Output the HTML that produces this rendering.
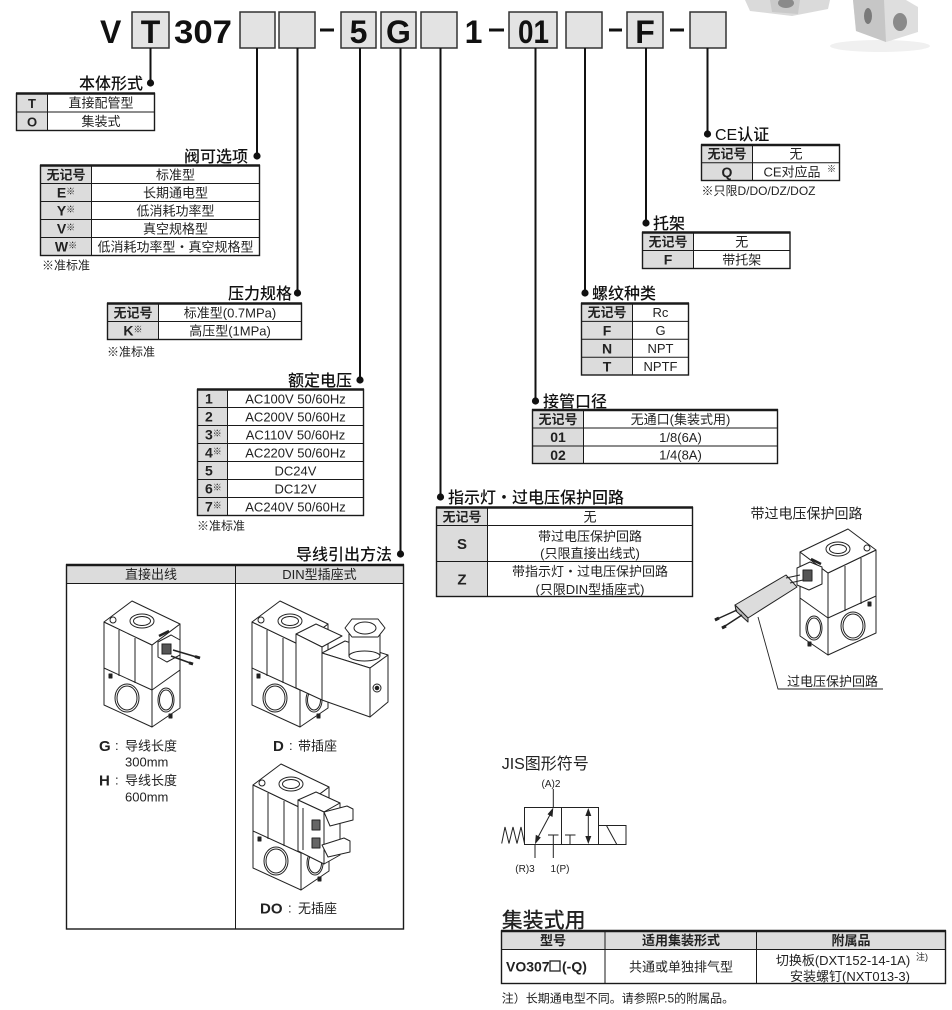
<!DOCTYPE html>
<html><head><meta charset="utf-8">
<style>
html,body{margin:0;padding:0;background:#fff;}
svg{display:block;}
text{font-family:"Liberation Sans","Noto Sans CJK SC",sans-serif;fill:#222;}
.t{font-size:13px;}
.c{text-anchor:middle;}
.e{text-anchor:end;}
.k{font-weight:bold;}
.lb{font-size:16px;font-weight:500;fill:#111;}
.n{font-size:12px;}
.hd{font-size:32px;font-weight:bold;fill:#111;}
.tb rect.o{fill:none;stroke:#1a1a1a;stroke-width:1.4;}
.tb line{stroke:#1a1a1a;stroke-width:1;}
.tb line.top{stroke-width:2.4;}
.g{fill:#dcdcdc;}
</style></head><body>
<svg width="952" height="1010" viewBox="0 0 952 1010" xmlns="http://www.w3.org/2000/svg">
<defs>
<g id="vb" stroke="#222" stroke-width="1" stroke-linejoin="round" fill="#fff">
 <polygon points="1,66 49,88 49,127 1,105"/>
 <polygon points="49,88 77,70 77,108 49,127"/>
 <polygon points="1,22 49,45 49,90 1,68"/>
 <polygon points="49,45 77,24 77,70 49,90"/>
 <polygon points="1,22 29,1 77,24 49,45"/>
 <ellipse cx="39" cy="21" rx="12" ry="7"/>
 <ellipse cx="39" cy="21" rx="8.5" ry="4.5"/>
 <line x1="16" y1="30" x2="16" y2="76"/>
 <line x1="32" y1="38" x2="32" y2="83"/>
 <ellipse cx="24" cy="98" rx="12" ry="14"/>
 <ellipse cx="24" cy="98" rx="10" ry="12"/>
 <ellipse cx="63" cy="100" rx="8" ry="12"/>
 <ellipse cx="63" cy="100" rx="6.5" ry="10"/>
 <rect x="6" y="74" width="3" height="4" fill="#222"/>
 <rect x="66" y="114" width="3" height="4" fill="#222"/>
 <circle cx="10" cy="20" r="3"/>
 <line x1="56" y1="36" x2="66" y2="31" stroke-width="2.5"/>
</g>
</defs>

<!-- top-right product photo -->
<g>
 <ellipse cx="880" cy="46" rx="50" ry="6" fill="#f0f0f0"/>
 <polygon points="745,0 830,0 828,9 792,16 750,11" fill="#dadada"/>
 <polygon points="770,0 800,0 798,14 772,12" fill="#c9c9c9"/>
 <ellipse cx="786" cy="3" rx="8" ry="5" fill="#8a8a8a"/>
 <polygon points="853,0 906,0 918,7 918,32 886,42 856,31" fill="#dedede"/>
 <polygon points="853,0 884,0 886,42 856,31" fill="#c6c6c6"/>
 <ellipse cx="868" cy="16" rx="4" ry="8" fill="#7a7a7a"/>
 <ellipse cx="900" cy="22" rx="7" ry="9" fill="#8a8a8a"/>
</g>

<!-- header code -->
<text x="100" y="43" class="hd">V</text>
<g fill="#e3e3e3" stroke="#333" stroke-width="1.5">
 <rect x="132" y="12" width="37" height="36"/>
 <rect x="240" y="12" width="35" height="36"/>
 <rect x="279" y="12" width="36" height="36"/>
 <rect x="341" y="12" width="35" height="36"/>
 <rect x="381" y="12" width="35" height="36"/>
 <rect x="421" y="12" width="36" height="36"/>
 <rect x="509" y="12" width="48" height="36"/>
 <rect x="566" y="12" width="36" height="36"/>
 <rect x="627" y="12" width="36" height="36"/>
 <rect x="690" y="12" width="36" height="36"/>
</g>
<text x="150.5" y="43" class="hd c">T</text>
<text x="174" y="43" class="hd" textLength="58" lengthAdjust="spacingAndGlyphs">307</text>
<text x="358.5" y="43" class="hd c">5</text>
<text x="398.5" y="43" class="hd c">G</text>
<text x="473.5" y="43" class="hd c">1</text>
<text x="518" y="43" class="hd" textLength="31" lengthAdjust="spacingAndGlyphs">01</text>
<text x="645" y="43" class="hd c">F</text>
<g fill="#111">
 <rect x="320" y="28.5" width="14" height="3"/>
 <rect x="489" y="28.5" width="15" height="3"/>
 <rect x="609" y="28.5" width="13" height="3"/>
 <rect x="670" y="28.5" width="14" height="3"/>
</g>

<!-- connector lines -->
<g stroke="#111" stroke-width="2">
 <line x1="150.5" y1="48" x2="150.5" y2="83"/>
 <line x1="257" y1="48" x2="257" y2="156"/>
 <line x1="297.5" y1="48" x2="297.5" y2="293"/>
 <line x1="360" y1="48" x2="360" y2="380"/>
 <line x1="400.5" y1="48" x2="400.5" y2="554"/>
 <line x1="440.5" y1="48" x2="440.5" y2="497"/>
 <line x1="535.5" y1="48" x2="535.5" y2="401"/>
 <line x1="585" y1="48" x2="585" y2="293"/>
 <line x1="646" y1="48" x2="646" y2="223"/>
 <line x1="707.5" y1="48" x2="707.5" y2="134"/>
</g>
<g fill="#111">
 <circle cx="150.5" cy="83" r="3.6"/>
 <circle cx="257" cy="156" r="3.6"/>
 <circle cx="297.5" cy="293" r="3.6"/>
 <circle cx="360" cy="380" r="3.6"/>
 <circle cx="400.5" cy="554" r="3.6"/>
 <circle cx="440.5" cy="497" r="3.6"/>
 <circle cx="535.5" cy="401" r="3.6"/>
 <circle cx="585" cy="293" r="3.6"/>
 <circle cx="646" cy="223" r="3.6"/>
 <circle cx="707.5" cy="134" r="3.6"/>
</g>

<!-- labels -->
<text x="143" y="89" class="lb e">本体形式</text>
<text x="248" y="162" class="lb e">阀可选项</text>
<text x="292" y="299" class="lb e">压力规格</text>
<text x="352" y="386" class="lb e">额定电压</text>
<text x="392" y="560" class="lb e">导线引出方法</text>
<text x="448" y="503" class="lb">指示灯・过电压保护回路</text>
<text x="543" y="407" class="lb">接管口径</text>
<text x="592" y="299" class="lb">螺纹种类</text>
<text x="653" y="229" class="lb">托架</text>
<text x="715" y="140" class="lb">CE认证</text>

<!-- T1 本体形式 -->
<g class="tb">
 <rect class="g" x="16.5" y="93.5" width="31" height="37"/>
 <rect class="o" x="16.5" y="93.5" width="138" height="37"/>
 <line class="top" x1="16" y1="93.5" x2="155" y2="93.5"/>
 <line x1="47.5" y1="93.5" x2="47.5" y2="130.5"/>
 <line x1="16.5" y1="112" x2="154.5" y2="112"/>
</g>
<text x="32" y="108" class="t c k" font-size="14">T</text>
<text x="101" y="107.5" class="t c">直接配管型</text>
<text x="32" y="126.5" class="t c k" font-size="14">O</text>
<text x="101" y="126" class="t c">集装式</text>

<!-- T2 阀可选项 -->
<g class="tb">
 <rect class="g" x="40.5" y="165.5" width="51" height="90"/>
 <rect class="o" x="40.5" y="165.5" width="219" height="90"/>
 <line class="top" x1="40" y1="165.5" x2="260" y2="165.5"/>
 <line x1="91.5" y1="165.5" x2="91.5" y2="255.5"/>
 <line x1="40.5" y1="183.5" x2="259.5" y2="183.5"/>
 <line x1="40.5" y1="201.5" x2="259.5" y2="201.5"/>
 <line x1="40.5" y1="219.5" x2="259.5" y2="219.5"/>
 <line x1="40.5" y1="237.5" x2="259.5" y2="237.5"/>
</g>
<text x="66" y="179.3" class="t c k">无记号</text>
<text x="175.5" y="179.3" class="t c">标准型</text>
<text x="66" y="197.5" class="c"><tspan class="k" font-size="14">E</tspan><tspan font-size="9" dy="-3">※</tspan></text>
<text x="175.5" y="197.3" class="t c">长期通电型</text>
<text x="66" y="215.5" class="c"><tspan class="k" font-size="14">Y</tspan><tspan font-size="9" dy="-3">※</tspan></text>
<text x="175.5" y="215.3" class="t c">低消耗功率型</text>
<text x="66" y="233.5" class="c"><tspan class="k" font-size="14">V</tspan><tspan font-size="9" dy="-3">※</tspan></text>
<text x="175.5" y="233.3" class="t c">真空规格型</text>
<text x="66" y="251.5" class="c"><tspan class="k" font-size="14">W</tspan><tspan font-size="9" dy="-3">※</tspan></text>
<text x="175.5" y="251.3" class="t c">低消耗功率型・真空规格型</text>
<text x="42" y="269.5" class="n">※准标准</text>

<!-- T3 压力规格 -->
<g class="tb">
 <rect class="g" x="107.5" y="303.5" width="51" height="36"/>
 <rect class="o" x="107.5" y="303.5" width="194" height="36"/>
 <line class="top" x1="107" y1="303.5" x2="302" y2="303.5"/>
 <line x1="158.5" y1="303.5" x2="158.5" y2="339.5"/>
 <line x1="107.5" y1="321.5" x2="301.5" y2="321.5"/>
</g>
<text x="133" y="317.3" class="t c k">无记号</text>
<text x="230" y="317.3" class="t c">标准型(0.7MPa)</text>
<text x="133" y="335.5" class="c"><tspan class="k" font-size="14">K</tspan><tspan font-size="9" dy="-3">※</tspan></text>
<text x="230" y="335.3" class="t c">高压型(1MPa)</text>
<text x="107" y="356" class="n">※准标准</text>

<!-- T4 额定电压 -->
<g class="tb">
 <rect class="g" x="197.5" y="389.5" width="30" height="126"/>
 <rect class="o" x="197.5" y="389.5" width="166" height="126"/>
 <line class="top" x1="197" y1="389.5" x2="364" y2="389.5"/>
 <line x1="227.5" y1="389.5" x2="227.5" y2="515.5"/>
 <line x1="197.5" y1="407.5" x2="363.5" y2="407.5"/>
 <line x1="197.5" y1="425.5" x2="363.5" y2="425.5"/>
 <line x1="197.5" y1="443.5" x2="363.5" y2="443.5"/>
 <line x1="197.5" y1="461.5" x2="363.5" y2="461.5"/>
 <line x1="197.5" y1="479.5" x2="363.5" y2="479.5"/>
 <line x1="197.5" y1="497.5" x2="363.5" y2="497.5"/>
</g>
<text x="205" y="403.7" class="k" font-size="14">1</text>
<text x="295.5" y="403.3" class="t c">AC100V 50/60Hz</text>
<text x="205" y="421.7" class="k" font-size="14">2</text>
<text x="295.5" y="421.3" class="t c">AC200V 50/60Hz</text>
<text x="205" y="439.7"><tspan class="k" font-size="14">3</tspan><tspan font-size="9" dy="-3">※</tspan></text>
<text x="295.5" y="439.3" class="t c">AC110V 50/60Hz</text>
<text x="205" y="457.7"><tspan class="k" font-size="14">4</tspan><tspan font-size="9" dy="-3">※</tspan></text>
<text x="295.5" y="457.3" class="t c">AC220V 50/60Hz</text>
<text x="205" y="475.7" class="k" font-size="14">5</text>
<text x="295.5" y="475.3" class="t c">DC24V</text>
<text x="205" y="493.7"><tspan class="k" font-size="14">6</tspan><tspan font-size="9" dy="-3">※</tspan></text>
<text x="295.5" y="493.3" class="t c">DC12V</text>
<text x="205" y="511.7"><tspan class="k" font-size="14">7</tspan><tspan font-size="9" dy="-3">※</tspan></text>
<text x="295.5" y="511.3" class="t c">AC240V 50/60Hz</text>
<text x="197" y="530" class="n">※准标准</text>

<!-- T5 导线引出方法 -->
<g class="tb">
 <rect class="g" x="66.5" y="565" width="337" height="18.5"/>
 <rect class="o" x="66.5" y="565" width="337" height="364"/>
 <line class="top" x1="66" y1="565" x2="404" y2="565"/>
 <line x1="66.5" y1="583.5" x2="403.5" y2="583.5"/>
 <line x1="235.5" y1="565" x2="235.5" y2="929"/>
</g>
<text x="151" y="579" class="t c">直接出线</text>
<text x="319.5" y="579" class="t c">DIN型插座式</text>

<!-- left valve (G) -->
<use href="#vb" transform="translate(103,600)"/>
<g transform="translate(103,600)" stroke="#222" stroke-width="1" fill="#fff">
 <polygon points="55,42 68,35 77,40 77,55 64,62 55,57"/>
 <rect x="59" y="44" width="9" height="10" fill="#555"/>
 <path d="M70,50 L97,58 M68,56 L90,64" stroke-width="1.6" fill="none"/>
 <path d="M92,56.5 L97,58 M86,62.8 L90,64" stroke-width="3" fill="none"/>
</g>
<text x="99" y="751" class="k" font-size="15">G</text>
<text x="115" y="750" class="t" fill="#666">:</text>
<text x="125" y="750.5" class="t">导线长度</text>
<text x="125" y="766.5" class="t">300mm</text>
<text x="99" y="785.5" class="k" font-size="15">H</text>
<text x="115" y="784.5" class="t" fill="#666">:</text>
<text x="125" y="785" class="t">导线长度</text>
<text x="125" y="801.5" class="t">600mm</text>

<!-- D valve -->
<use href="#vb" transform="translate(251,600)"/>
<g stroke="#222" stroke-width="1" fill="#fff" stroke-linejoin="round">
 <polygon points="296,634 316,624 342,636 322,647"/>
 <polygon points="296,634 322,647 322,700 296,688"/>
 <polygon points="322,653 345,641 388,655 370,668"/>
 <polygon points="322,653 370,668 370,717 322,700"/>
 <polygon points="370,668 388,655 388,702 370,717"/>
 <rect x="349" y="634" width="31" height="22"/>
 <ellipse cx="364.5" cy="656" rx="15.5" ry="5"/>
 <polygon points="345,628 352,619 378,619 385,628 378,637 352,637"/>
 <ellipse cx="365" cy="628" rx="11" ry="6"/>
 <circle cx="377" cy="688" r="4"/>
 <circle cx="377" cy="688" r="1.8" fill="#222"/>
</g>
<text x="273" y="751" class="k" font-size="15">D</text>
<text x="289" y="750" class="t" fill="#666">:</text>
<text x="298" y="750.5" class="t">带插座</text>

<!-- DO valve -->
<use href="#vb" transform="translate(252,763)"/>
<g stroke="#222" stroke-width="1" fill="#fff" stroke-linejoin="round">
 <polygon points="298,800 316,792 340,803 324,812"/>
 <polygon points="298,800 324,812 324,864 298,851"/>
 <polygon points="324,812 340,803 340,855 324,864"/>
 <polygon points="324,812 347,806 353,809 353,820 330,826"/>
 <polygon points="322,845 344,838 350,841 350,852 328,857"/>
 <rect x="312" y="820" width="8" height="10" fill="#666"/>
 <rect x="312" y="838" width="8" height="10" fill="#666"/>
 <line x1="303" y1="808" x2="303" y2="850"/>
</g>
<text x="260" y="913.5" class="k" font-size="15">DO</text>
<text x="288" y="912.5" class="t" fill="#666">:</text>
<text x="298" y="913" class="t">无插座</text>

<!-- T6 指示灯 -->
<g class="tb">
 <rect class="g" x="436.5" y="507.5" width="51" height="89"/>
 <rect class="o" x="436.5" y="507.5" width="256" height="89"/>
 <line class="top" x1="436" y1="507.5" x2="693" y2="507.5"/>
 <line x1="487.5" y1="507.5" x2="487.5" y2="596.5"/>
 <line x1="436.5" y1="525.5" x2="692.5" y2="525.5"/>
 <line x1="436.5" y1="561.5" x2="692.5" y2="561.5"/>
</g>
<text x="462" y="521.3" class="t c k">无记号</text>
<text x="590" y="521.3" class="t c">无</text>
<text x="462" y="549" class="c k" font-size="15">S</text>
<text x="590" y="540.8" class="t c">带过电压保护回路</text>
<text x="590" y="558" class="t c">(只限直接出线式)</text>
<text x="462" y="584.5" class="c k" font-size="15">Z</text>
<text x="590" y="575.8" class="t c">带指示灯・过电压保护回路</text>
<text x="590" y="593.8" class="t c">(只限DIN型插座式)</text>

<!-- T7 接管口径 -->
<g class="tb">
 <rect class="g" x="532.5" y="410" width="51" height="53.5"/>
 <rect class="o" x="532.5" y="410" width="245" height="53.5"/>
 <line class="top" x1="532" y1="410" x2="778" y2="410"/>
 <line x1="583.5" y1="410" x2="583.5" y2="463.5"/>
 <line x1="532.5" y1="428" x2="777.5" y2="428"/>
 <line x1="532.5" y1="446" x2="777.5" y2="446"/>
</g>
<text x="558" y="423.8" class="t c k">无记号</text>
<text x="680.5" y="423.8" class="t c">无通口(集装式用)</text>
<text x="558" y="442.2" class="c k" font-size="14">01</text>
<text x="680.5" y="441.8" class="t c">1/8(6A)</text>
<text x="558" y="460" class="c k" font-size="14">02</text>
<text x="680.5" y="459.6" class="t c">1/4(8A)</text>

<!-- T8 螺纹种类 -->
<g class="tb">
 <rect class="g" x="581.5" y="303.5" width="51" height="71.5"/>
 <rect class="o" x="581.5" y="303.5" width="107" height="71.5"/>
 <line class="top" x1="581" y1="303.5" x2="689" y2="303.5"/>
 <line x1="632.5" y1="303.5" x2="632.5" y2="375"/>
 <line x1="581.5" y1="321.4" x2="688.5" y2="321.4"/>
 <line x1="581.5" y1="339.3" x2="688.5" y2="339.3"/>
 <line x1="581.5" y1="357.2" x2="688.5" y2="357.2"/>
</g>
<text x="607" y="317.2" class="t c k">无记号</text>
<text x="660.5" y="317.2" class="t c">Rc</text>
<text x="607" y="335.5" class="c k" font-size="14">F</text>
<text x="660.5" y="335.1" class="t c">G</text>
<text x="607" y="353.4" class="c k" font-size="14">N</text>
<text x="660.5" y="353" class="t c">NPT</text>
<text x="607" y="371.3" class="c k" font-size="14">T</text>
<text x="660.5" y="370.9" class="t c">NPTF</text>

<!-- T9 托架 -->
<g class="tb">
 <rect class="g" x="642.5" y="232.5" width="51" height="36"/>
 <rect class="o" x="642.5" y="232.5" width="147.5" height="36"/>
 <line class="top" x1="642" y1="232.5" x2="790.5" y2="232.5"/>
 <line x1="693.5" y1="232.5" x2="693.5" y2="268.5"/>
 <line x1="642.5" y1="250.5" x2="790" y2="250.5"/>
</g>
<text x="668" y="246.3" class="t c k">无记号</text>
<text x="741.75" y="246.3" class="t c">无</text>
<text x="668" y="264.7" class="c k" font-size="14">F</text>
<text x="741.75" y="264.3" class="t c">带托架</text>

<!-- T10 CE认证 -->
<g class="tb">
 <rect class="g" x="701.5" y="145" width="51" height="35.5"/>
 <rect class="o" x="701.5" y="145" width="138" height="35.5"/>
 <line class="top" x1="701" y1="145" x2="840" y2="145"/>
 <line x1="752.5" y1="145" x2="752.5" y2="180.5"/>
 <line x1="701.5" y1="162.75" x2="839.5" y2="162.75"/>
</g>
<text x="727" y="158.7" class="t c k">无记号</text>
<text x="796" y="158.7" class="t c">无</text>
<text x="727" y="176.8" class="c k" font-size="14">Q</text>
<text x="792" y="176.4" class="t c">CE对应品</text>
<text x="827" y="172" font-size="9">※</text>
<text x="701.5" y="195.1" class="n">※只限D/DO/DZ/DOZ</text>

<!-- right image: overvoltage protection -->
<text x="806.5" y="518.3" class="c" font-size="14">带过电压保护回路</text>
<use href="#vb" transform="translate(877,528) scale(-1,1)"/>
<g stroke="#222" stroke-width="1" fill="#fff" stroke-linejoin="round">
 <polygon points="797,568 810,562 822,567 822,584 809,590 797,585"/>
 <rect x="803" y="570" width="9" height="11" fill="#555"/>
 <polygon points="735,605 786,575 797,587 748,618" fill="#dcdcdc"/>
 <polygon points="735,605 748,618 748,622 736,611" fill="#bbb"/>
 <path d="M786,578 L800,575 M790,583 L803,580" fill="none"/>
 <path d="M737,610 L715,620 M742,615 L722,628" fill="none" stroke-width="1.5"/>
 <path d="M719,618 L715,620 M726,626 L722,628" fill="none" stroke-width="3"/>
 <path d="M758,617 L778,689 L883,689" fill="none" stroke-width="0.9"/>
</g>
<text x="787" y="686" class="t">过电压保护回路</text>

<!-- JIS symbol -->
<text x="501.7" y="769" font-size="16">JIS图形符号</text>
<text x="551" y="787" class="c" font-size="10">(A)2</text>
<g stroke="#222" stroke-width="1" fill="none">
 <rect x="524.5" y="807.5" width="37" height="37"/>
 <rect x="561.5" y="807.5" width="37" height="37"/>
 <rect x="598.5" y="825.5" width="27.5" height="19"/>
 <polyline points="524.5,843.5 521,827 517,843.5 513,827 509,843.5 505,827 501.7,843.5"/>
 <line x1="536.5" y1="840" x2="552" y2="811"/>
 <line x1="553.3" y1="807.5" x2="553.3" y2="789"/>
 <line x1="535" y1="844.5" x2="535" y2="858"/>
 <line x1="553.3" y1="844.5" x2="553.3" y2="858"/>
 <line x1="553.3" y1="844.5" x2="553.3" y2="835"/>
 <line x1="548" y1="835" x2="558.5" y2="835"/>
 <line x1="570" y1="844.5" x2="570" y2="835"/>
 <line x1="565" y1="835" x2="575.5" y2="835"/>
 <line x1="588.3" y1="812" x2="588.3" y2="840"/>
 <line x1="606.7" y1="826" x2="616.7" y2="844.3"/>
</g>
<g fill="#222">
 <polygon points="553.3,807.5 552.5,817 547.5,814.3"/>
 <polygon points="535,844.3 535.8,834.8 540.8,837.5"/>
 <polygon points="588.3,808 585.3,816 591.3,816"/>
 <polygon points="588.3,844 585.3,836 591.3,836"/>
</g>
<text x="525" y="872" class="c" font-size="10">(R)3</text>
<text x="560" y="872" class="c" font-size="10">1(P)</text>

<!-- 集装式用 -->
<text x="501.7" y="927.5" font-size="21" font-weight="500">集装式用</text>
<g class="tb">
 <rect class="g" x="501.5" y="931" width="444" height="18.5"/>
 <rect class="o" x="501.5" y="931" width="444" height="52.5"/>
 <line class="top" x1="501" y1="931" x2="946" y2="931"/>
 <line x1="501.5" y1="949.5" x2="945.5" y2="949.5"/>
 <line x1="605" y1="931" x2="605" y2="983.5"/>
 <line x1="756.5" y1="931" x2="756.5" y2="983.5"/>
</g>
<text x="553" y="945" class="t c" font-weight="600">型号</text>
<text x="681" y="945" class="t c" font-weight="600">适用集装形式</text>
<text x="851" y="945" class="t c" font-weight="600">附属品</text>
<text x="506" y="971.5" class="k" font-size="14">VO307</text>
<rect x="550" y="961" width="10" height="10" fill="none" stroke="#222" stroke-width="1.3"/>
<text x="562" y="971.5" class="k" font-size="14">(-Q)</text>
<text x="681" y="971.3" class="t c">共通或单独排气型</text>
<text x="843" y="964.8" class="t c">切换板(DXT152-14-1A)</text>
<text x="916" y="960" font-size="9">注)</text>
<text x="850" y="980.8" class="t c">安装螺钉(NXT013-3)</text>
<text x="501.7" y="1002.5" class="n">注）长期通电型不同。请参照P.5的附属品。</text>
</svg>
</body></html>
